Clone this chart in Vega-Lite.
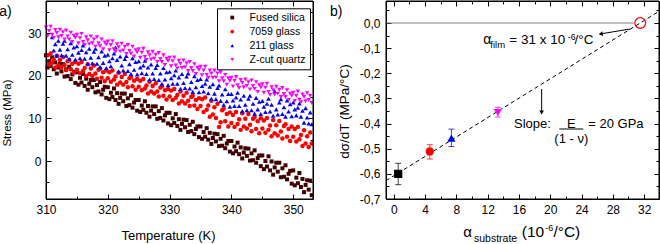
{
"$schema":"https://vega.github.io/schema/vega-lite/v6.json",
"autosize":{"type":"none"},
"padding":{"left":46,"top":1,"right":614,"bottom":243},
"background":"white",
"spacing":73,
"bounds":"flush",
"config":{"font":"Liberation Sans","view":{"stroke":"black","strokeWidth":1,"fill":null},
 "axis":{"domain":false,"grid":false,"labels":false,"title":null,"tickColor":"black","tickWidth":1,"labelColor":"black","titleColor":"black","labelFontSize":12,"titleFontWeight":"normal","labelFlush":false,"labelOverlap":false},
 "legend":{"labelColor":"black"}},
"resolve":{"scale":{"color":"independent","shape":"independent"}},
"datasets":{
"fused":[{"t":310,"v":24.8},{"t":310.25,"v":21.9},{"t":310.5,"v":23.4},{"t":310.75,"v":22.3},{"t":311,"v":24.3},{"t":311.25,"v":21.5},{"t":311.5,"v":23.1},{"t":311.75,"v":20.5},{"t":312,"v":21.9},{"t":312.25,"v":22.8},{"t":312.5,"v":21.0},{"t":312.75,"v":22.7},{"t":313,"v":19.8},{"t":313.25,"v":21.5},{"t":313.5,"v":19.9},{"t":313.75,"v":22.1},{"t":314,"v":19.2},{"t":314.25,"v":20.3},{"t":314.5,"v":20.9},{"t":314.75,"v":18.3},
{"t":315,"v":20.8},{"t":315.25,"v":17.9},{"t":315.5,"v":19.5},{"t":315.75,"v":18.4},{"t":316,"v":20.4},{"t":316.25,"v":17.6},{"t":316.5,"v":19.3},{"t":316.75,"v":16.7},{"t":317,"v":18.1},{"t":317.25,"v":19.0},{"t":317.5,"v":17.3},{"t":317.75,"v":19.0},{"t":318,"v":16.1},{"t":318.25,"v":17.8},{"t":318.5,"v":16.3},{"t":318.75,"v":18.5},{"t":319,"v":15.6},{"t":319.25,"v":16.7},{"t":319.5,"v":17.4},{"t":319.75,"v":14.8},
{"t":320,"v":17.3},{"t":320.25,"v":14.5},{"t":320.5,"v":16.0},{"t":320.75,"v":15.0},{"t":321,"v":17.0},{"t":321.25,"v":14.3},{"t":321.5,"v":15.9},{"t":321.75,"v":13.4},{"t":322,"v":14.8},{"t":322.25,"v":15.8},{"t":322.5,"v":14.0},{"t":322.75,"v":15.8},{"t":323,"v":12.9},{"t":323.25,"v":14.7},{"t":323.5,"v":13.1},{"t":323.75,"v":15.4},{"t":324,"v":12.5},{"t":324.25,"v":13.7},{"t":324.5,"v":14.3},{"t":324.75,"v":11.8},
{"t":325,"v":14.3},{"t":325.25,"v":11.5},{"t":325.5,"v":13.0},{"t":325.75,"v":12.0},{"t":326,"v":14.0},{"t":326.25,"v":11.3},{"t":326.5,"v":12.9},{"t":326.75,"v":10.4},{"t":327,"v":11.8},{"t":327.25,"v":12.8},{"t":327.5,"v":11.0},{"t":327.75,"v":12.8},{"t":328,"v":9.9},{"t":328.25,"v":11.7},{"t":328.5,"v":10.1},{"t":328.75,"v":12.4},{"t":329,"v":9.5},{"t":329.25,"v":10.7},{"t":329.5,"v":11.3},{"t":329.75,"v":8.8},
{"t":330,"v":11.3},{"t":330.25,"v":8.4},{"t":330.5,"v":10.0},{"t":330.75,"v":8.9},{"t":331,"v":11.0},{"t":331.25,"v":8.2},{"t":331.5,"v":9.8},{"t":331.75,"v":7.3},{"t":332,"v":8.7},{"t":332.25,"v":9.7},{"t":332.5,"v":7.9},{"t":332.75,"v":9.6},{"t":333,"v":6.8},{"t":333.25,"v":8.5},{"t":333.5,"v":7.0},{"t":333.75,"v":9.2},{"t":334,"v":6.3},{"t":334.25,"v":7.5},{"t":334.5,"v":8.1},{"t":334.75,"v":5.6},
{"t":335,"v":8.1},{"t":335.25,"v":5.2},{"t":335.5,"v":6.8},{"t":335.75,"v":5.7},{"t":336,"v":7.7},{"t":336.25,"v":5.0},{"t":336.5,"v":6.6},{"t":336.75,"v":4.0},{"t":337,"v":5.4},{"t":337.25,"v":6.4},{"t":337.5,"v":4.6},{"t":337.75,"v":6.3},{"t":338,"v":3.5},{"t":338.25,"v":5.2},{"t":338.5,"v":3.6},{"t":338.75,"v":5.9},{"t":339,"v":3.0},{"t":339.25,"v":4.1},{"t":339.5,"v":4.7},{"t":339.75,"v":2.2},
{"t":340,"v":4.7},{"t":340.25,"v":1.8},{"t":340.5,"v":3.4},{"t":340.75,"v":2.3},{"t":341,"v":4.3},{"t":341.25,"v":1.6},{"t":341.5,"v":3.2},{"t":341.75,"v":0.6},{"t":342,"v":2.0},{"t":342.25,"v":3.0},{"t":342.5,"v":1.2},{"t":342.75,"v":2.9},{"t":343,"v":0.1},{"t":343.25,"v":1.8},{"t":343.5,"v":0.2},{"t":343.75,"v":2.5},{"t":344,"v":-0.4},{"t":344.25,"v":0.7},{"t":344.5,"v":1.3},{"t":344.75,"v":-1.2},
{"t":345,"v":1.3},{"t":345.25,"v":-1.9},{"t":345.5,"v":0.0},{"t":345.75,"v":-1.3},{"t":346,"v":1.1},{"t":346.25,"v":-2.2},{"t":346.5,"v":-0.1},{"t":346.75,"v":-3.2},{"t":347,"v":-1.5},{"t":347.25,"v":-0.4},{"t":347.5,"v":-2.5},{"t":347.75,"v":-0.4},{"t":348,"v":-3.8},{"t":348.25,"v":-1.7},{"t":348.5,"v":-3.7},{"t":348.75,"v":-1.0},{"t":349,"v":-4.3},{"t":349.25,"v":-3.0},{"t":349.5,"v":-2.3},{"t":349.75,"v":-5.3},
{"t":350,"v":-2.2},{"t":350.25,"v":-5.7},{"t":350.5,"v":-3.9},{"t":350.75,"v":-5.2},{"t":351,"v":-2.8},{"t":351.25,"v":-6.1},{"t":351.5,"v":-4.2},{"t":351.75,"v":-7.3},{"t":352,"v":-5.6},{"t":352.25,"v":-4.5},{"t":352.5,"v":-6.7},{"t":352.75,"v":-4.6},{"t":353,"v":-8.0}],
"g7059":[{"t":310.25,"v":24.8},{"t":310.5,"v":22.6},{"t":310.75,"v":25.2},{"t":311,"v":23.1},{"t":311.25,"v":23.8},{"t":311.5,"v":21.9},{"t":311.75,"v":24.7},{"t":312,"v":22.4},{"t":312.25,"v":23.7},{"t":312.5,"v":21.9},{"t":312.75,"v":24.4},{"t":313,"v":22.5},{"t":313.25,"v":21.3},{"t":313.5,"v":23.4},{"t":313.75,"v":23.7},{"t":314,"v":21.5},{"t":314.25,"v":22.8},{"t":314.5,"v":20.7},{"t":314.75,"v":23.2},{"t":315,"v":21.4},
{"t":315.25,"v":22.8},{"t":315.5,"v":20.6},{"t":315.75,"v":23.2},{"t":316,"v":21.1},{"t":316.25,"v":21.8},{"t":316.5,"v":19.9},{"t":316.75,"v":22.7},{"t":317,"v":20.4},{"t":317.25,"v":21.7},{"t":317.5,"v":19.9},{"t":317.75,"v":22.4},{"t":318,"v":20.5},{"t":318.25,"v":19.3},{"t":318.5,"v":21.4},{"t":318.75,"v":21.7},{"t":319,"v":19.5},{"t":319.25,"v":20.8},{"t":319.5,"v":18.7},{"t":319.75,"v":21.2},{"t":320,"v":19.4},
{"t":320.25,"v":20.8},{"t":320.5,"v":18.6},{"t":320.75,"v":21.2},{"t":321,"v":19.1},{"t":321.25,"v":19.8},{"t":321.5,"v":17.9},{"t":321.75,"v":20.7},{"t":322,"v":18.4},{"t":322.25,"v":19.7},{"t":322.5,"v":17.9},{"t":322.75,"v":20.4},{"t":323,"v":18.5},{"t":323.25,"v":17.3},{"t":323.5,"v":19.4},{"t":323.75,"v":19.7},{"t":324,"v":17.5},{"t":324.25,"v":18.8},{"t":324.5,"v":16.7},{"t":324.75,"v":19.2},{"t":325,"v":17.4},
{"t":325.25,"v":18.8},{"t":325.5,"v":16.6},{"t":325.75,"v":19.2},{"t":326,"v":17.0},{"t":326.25,"v":17.7},{"t":326.5,"v":15.8},{"t":326.75,"v":18.6},{"t":327,"v":16.3},{"t":327.25,"v":17.6},{"t":327.5,"v":15.8},{"t":327.75,"v":18.2},{"t":328,"v":16.3},{"t":328.25,"v":15.1},{"t":328.5,"v":17.2},{"t":328.75,"v":17.5},{"t":329,"v":15.3},{"t":329.25,"v":16.6},{"t":329.5,"v":14.4},{"t":329.75,"v":16.9},{"t":330,"v":15.1},
{"t":330.25,"v":16.5},{"t":330.5,"v":14.3},{"t":330.75,"v":16.9},{"t":331,"v":14.8},{"t":331.25,"v":15.5},{"t":331.5,"v":13.5},{"t":331.75,"v":16.3},{"t":332,"v":14.0},{"t":332.25,"v":15.3},{"t":332.5,"v":13.5},{"t":332.75,"v":16.0},{"t":333,"v":14.1},{"t":333.25,"v":12.9},{"t":333.5,"v":15.0},{"t":333.75,"v":15.3},{"t":334,"v":13.0},{"t":334.25,"v":14.3},{"t":334.5,"v":12.2},{"t":334.75,"v":14.7},{"t":335,"v":12.9},
{"t":335.25,"v":14.5},{"t":335.5,"v":11.5},{"t":335.75,"v":14.9},{"t":336,"v":12.0},{"t":336.25,"v":13.0},{"t":336.5,"v":10.4},{"t":336.75,"v":14.1},{"t":337,"v":10.9},{"t":337.25,"v":12.6},{"t":337.5,"v":10.1},{"t":337.75,"v":13.4},{"t":338,"v":8.0},{"t":338.25,"v":9.1},{"t":338.5,"v":11.9},{"t":338.75,"v":12.3},{"t":339,"v":9.3},{"t":339.25,"v":11.0},{"t":339.5,"v":8.1},{"t":339.75,"v":11.4},{"t":340,"v":8.9},
{"t":340.25,"v":10.8},{"t":340.5,"v":8.0},{"t":340.75,"v":11.5},{"t":341,"v":8.7},{"t":341.25,"v":9.8},{"t":341.5,"v":7.3},{"t":341.75,"v":11.2},{"t":342,"v":8.1},{"t":342.25,"v":9.9},{"t":342.5,"v":7.6},{"t":342.75,"v":11.0},{"t":343,"v":8.5},{"t":343.25,"v":7.0},{"t":343.5,"v":9.9},{"t":343.75,"v":10.3},{"t":344,"v":7.5},{"t":344.25,"v":9.3},{"t":344.5,"v":6.5},{"t":344.75,"v":10.0},{"t":345,"v":7.6},
{"t":345.25,"v":9.5},{"t":345.5,"v":6.6},{"t":345.75,"v":10.1},{"t":346,"v":7.3},{"t":346.25,"v":8.3},{"t":346.5,"v":5.8},{"t":346.75,"v":9.6},{"t":347,"v":6.5},{"t":347.25,"v":8.4},{"t":347.5,"v":6.0},{"t":347.75,"v":9.4},{"t":348,"v":6.9},{"t":348.25,"v":5.3},{"t":348.5,"v":8.2},{"t":348.75,"v":8.6},{"t":349,"v":5.7},{"t":349.25,"v":7.5},{"t":349.5,"v":4.7},{"t":349.75,"v":8.1},{"t":350,"v":5.7},
{"t":350.25,"v":7.5},{"t":350.5,"v":4.6},{"t":350.75,"v":8.0},{"t":351,"v":5.1},{"t":351.25,"v":6.1},{"t":351.5,"v":3.5},{"t":351.75,"v":7.2},{"t":352,"v":4.1},{"t":352.25,"v":5.8},{"t":352.5,"v":3.3},{"t":352.75,"v":6.7},{"t":353,"v":4.1}],
"g211":[{"t":311,"v":29.0},{"t":311.25,"v":25.9},{"t":311.5,"v":27.4},{"t":311.75,"v":24.7},{"t":312,"v":28.2},{"t":312.25,"v":26.1},{"t":312.5,"v":24.8},{"t":312.75,"v":27.5},{"t":313,"v":28.2},{"t":313.25,"v":24.7},{"t":313.5,"v":26.2},{"t":313.75,"v":23.9},{"t":314,"v":27.6},{"t":314.25,"v":24.9},{"t":314.5,"v":26.6},{"t":314.75,"v":23.8},{"t":315,"v":26.9},
{"t":315.25,"v":25.4},{"t":315.5,"v":24.1},{"t":315.75,"v":26.0},{"t":316,"v":27.1},{"t":316.25,"v":24.0},{"t":316.5,"v":25.5},{"t":316.75,"v":22.8},{"t":317,"v":26.3},{"t":317.25,"v":24.2},{"t":317.5,"v":22.9},{"t":317.75,"v":25.6},{"t":318,"v":26.3},{"t":318.25,"v":22.8},{"t":318.5,"v":24.3},{"t":318.75,"v":22.0},{"t":319,"v":25.7},{"t":319.25,"v":23.0},{"t":319.5,"v":24.7},{"t":319.75,"v":21.8},{"t":320,"v":24.9},
{"t":320.25,"v":23.4},{"t":320.5,"v":22.2},{"t":320.75,"v":24.1},{"t":321,"v":25.2},{"t":321.25,"v":26.6},{"t":321.5,"v":23.7},{"t":321.75,"v":21.0},{"t":322,"v":24.5},{"t":322.25,"v":22.4},{"t":322.5,"v":21.2},{"t":322.75,"v":23.9},{"t":323,"v":24.6},{"t":323.25,"v":21.1},{"t":323.5,"v":22.7},{"t":323.75,"v":20.4},{"t":324,"v":24.1},{"t":324.25,"v":21.4},{"t":324.5,"v":23.2},{"t":324.75,"v":20.3},{"t":325,"v":23.4},
{"t":325.25,"v":21.9},{"t":325.5,"v":20.6},{"t":325.75,"v":22.4},{"t":326,"v":23.5},{"t":326.25,"v":20.4},{"t":326.5,"v":21.9},{"t":326.75,"v":19.1},{"t":327,"v":22.6},{"t":327.25,"v":20.5},{"t":327.5,"v":19.2},{"t":327.75,"v":21.8},{"t":328,"v":22.5},{"t":328.25,"v":19.0},{"t":328.5,"v":20.5},{"t":328.75,"v":18.1},{"t":329,"v":21.8},{"t":329.25,"v":19.1},{"t":329.5,"v":20.8},{"t":329.75,"v":17.8},{"t":330,"v":20.9},
{"t":330.25,"v":19.4},{"t":330.5,"v":18.1},{"t":330.75,"v":20.1},{"t":331,"v":21.2},{"t":331.25,"v":18.1},{"t":331.5,"v":19.6},{"t":331.75,"v":16.9},{"t":332,"v":20.4},{"t":332.25,"v":18.3},{"t":332.5,"v":17.1},{"t":332.75,"v":19.8},{"t":333,"v":20.5},{"t":333.25,"v":17.0},{"t":333.5,"v":18.5},{"t":333.75,"v":16.2},{"t":334,"v":19.9},{"t":334.25,"v":17.3},{"t":334.5,"v":19.0},{"t":334.75,"v":16.1},{"t":335,"v":19.2},
{"t":335.25,"v":17.6},{"t":335.5,"v":16.3},{"t":335.75,"v":18.1},{"t":336,"v":19.1},{"t":336.25,"v":15.9},{"t":336.5,"v":17.4},{"t":336.75,"v":14.6},{"t":337,"v":18.0},{"t":337.25,"v":15.8},{"t":337.5,"v":14.5},{"t":337.75,"v":17.1},{"t":338,"v":17.7},{"t":338.25,"v":14.1},{"t":338.5,"v":15.6},{"t":338.75,"v":13.2},{"t":339,"v":16.8},{"t":339.25,"v":14.0},{"t":339.5,"v":15.7},{"t":339.75,"v":12.7},{"t":340,"v":15.7},
{"t":340.25,"v":14.2},{"t":340.5,"v":12.9},{"t":340.75,"v":14.9},{"t":341,"v":16.0},{"t":341.25,"v":12.9},{"t":341.5,"v":14.4},{"t":341.75,"v":11.7},{"t":342,"v":15.3},{"t":342.25,"v":13.2},{"t":342.5,"v":11.9},{"t":342.75,"v":14.6},{"t":343,"v":15.3},{"t":343.25,"v":11.9},{"t":343.5,"v":13.4},{"t":343.75,"v":11.1},{"t":344,"v":14.8},{"t":344.25,"v":12.1},{"t":344.5,"v":13.9},{"t":344.75,"v":11.0},{"t":345,"v":14.1},
{"t":345.25,"v":12.7},{"t":345.5,"v":11.5},{"t":345.75,"v":13.4},{"t":346,"v":14.6},{"t":346.25,"v":11.6},{"t":346.5,"v":13.2},{"t":346.75,"v":10.6},{"t":347,"v":16.3},{"t":347.25,"v":12.1},{"t":347.5,"v":10.9},{"t":347.75,"v":13.7},{"t":348,"v":14.5},{"t":348.25,"v":11.0},{"t":348.5,"v":12.6},{"t":348.75,"v":10.4},{"t":349,"v":14.2},{"t":349.25,"v":11.6},{"t":349.5,"v":13.3},{"t":349.75,"v":10.5},{"t":350,"v":13.7},
{"t":350.25,"v":12.1},{"t":350.5,"v":10.7},{"t":350.75,"v":12.5},{"t":351,"v":13.5},{"t":351.25,"v":10.4},{"t":351.5,"v":11.8},{"t":351.75,"v":9.0},{"t":352,"v":12.4},{"t":352.25,"v":10.2},{"t":352.5,"v":8.8},{"t":352.75,"v":11.4},{"t":353,"v":8.6}],
"quartz":[{"t":310,"v":31.3},{"t":310.25,"v":29.3},{"t":310.5,"v":30.5},{"t":310.75,"v":31.5},{"t":311,"v":29.6},{"t":311.25,"v":28.9},{"t":311.5,"v":30.7},{"t":311.75,"v":30.0},{"t":312,"v":29.0},{"t":312.25,"v":30.8},{"t":312.5,"v":29.3},{"t":312.75,"v":30.2},{"t":313,"v":28.5},{"t":313.25,"v":30.6},{"t":313.5,"v":29.2},{"t":313.75,"v":28.5},{"t":314,"v":30.1},{"t":314.25,"v":27.9},{"t":314.5,"v":29.4},{"t":314.75,"v":28.9},{"t":315,"v":29.6},
{"t":315.25,"v":27.6},{"t":315.5,"v":28.8},{"t":315.75,"v":29.8},{"t":316,"v":27.9},{"t":316.25,"v":27.2},{"t":316.5,"v":29.0},{"t":316.75,"v":28.3},{"t":317,"v":27.4},{"t":317.25,"v":29.2},{"t":317.5,"v":27.6},{"t":317.75,"v":28.5},{"t":318,"v":26.8},{"t":318.25,"v":29.0},{"t":318.5,"v":27.6},{"t":318.75,"v":26.9},{"t":319,"v":28.5},{"t":319.25,"v":26.2},{"t":319.5,"v":27.8},{"t":319.75,"v":27.3},{"t":320,"v":28.0},
{"t":320.25,"v":26.0},{"t":320.5,"v":27.2},{"t":320.75,"v":28.1},{"t":321,"v":26.2},{"t":321.25,"v":25.6},{"t":321.5,"v":27.4},{"t":321.75,"v":26.7},{"t":322,"v":25.7},{"t":322.25,"v":27.5},{"t":322.5,"v":25.9},{"t":322.75,"v":26.8},{"t":323,"v":25.1},{"t":323.25,"v":27.2},{"t":323.5,"v":25.8},{"t":323.75,"v":25.2},{"t":324,"v":26.8},{"t":324.25,"v":24.5},{"t":324.5,"v":26.0},{"t":324.75,"v":25.5},{"t":325,"v":26.2},
{"t":325.25,"v":24.2},{"t":325.5,"v":25.4},{"t":325.75,"v":26.3},{"t":326,"v":24.4},{"t":326.25,"v":23.7},{"t":326.5,"v":25.5},{"t":326.75,"v":24.8},{"t":327,"v":23.8},{"t":327.25,"v":25.6},{"t":327.5,"v":24.0},{"t":327.75,"v":24.9},{"t":328,"v":23.2},{"t":328.25,"v":25.3},{"t":328.5,"v":23.9},{"t":328.75,"v":23.2},{"t":329,"v":24.8},{"t":329.25,"v":22.5},{"t":329.5,"v":24.0},{"t":329.75,"v":23.5},{"t":330,"v":24.2},
{"t":330.25,"v":22.2},{"t":330.5,"v":23.4},{"t":330.75,"v":24.3},{"t":331,"v":22.4},{"t":331.25,"v":21.7},{"t":331.5,"v":23.5},{"t":331.75,"v":22.8},{"t":332,"v":21.8},{"t":332.25,"v":23.6},{"t":332.5,"v":22.0},{"t":332.75,"v":22.9},{"t":333,"v":21.1},{"t":333.25,"v":23.2},{"t":333.5,"v":21.8},{"t":333.75,"v":21.1},{"t":334,"v":22.7},{"t":334.25,"v":20.4},{"t":334.5,"v":21.9},{"t":334.75,"v":21.4},{"t":335,"v":22.1},
{"t":335.25,"v":20.1},{"t":335.5,"v":21.2},{"t":335.75,"v":22.1},{"t":336,"v":20.2},{"t":336.25,"v":19.5},{"t":336.5,"v":21.2},{"t":336.75,"v":20.5},{"t":337,"v":19.5},{"t":337.25,"v":21.2},{"t":337.5,"v":19.6},{"t":337.75,"v":20.5},{"t":338,"v":18.7},{"t":338.25,"v":20.8},{"t":338.5,"v":19.4},{"t":338.75,"v":18.7},{"t":339,"v":20.2},{"t":339.25,"v":17.9},{"t":339.5,"v":19.4},{"t":339.75,"v":18.8},{"t":340,"v":19.5},
{"t":340.25,"v":17.5},{"t":340.5,"v":18.8},{"t":340.75,"v":19.7},{"t":341,"v":17.8},{"t":341.25,"v":17.1},{"t":341.5,"v":19.0},{"t":341.75,"v":18.3},{"t":342,"v":17.3},{"t":342.25,"v":19.1},{"t":342.5,"v":17.6},{"t":342.75,"v":18.5},{"t":343,"v":16.8},{"t":343.25,"v":18.9},{"t":343.5,"v":17.6},{"t":343.75,"v":16.9},{"t":344,"v":18.5},{"t":344.25,"v":16.2},{"t":344.5,"v":17.8},{"t":344.75,"v":17.3},{"t":345,"v":18.0},
{"t":345.25,"v":16.0},{"t":345.5,"v":17.2},{"t":345.75,"v":18.1},{"t":346,"v":16.2},{"t":346.25,"v":15.5},{"t":346.5,"v":17.3},{"t":346.75,"v":16.6},{"t":347,"v":15.6},{"t":347.25,"v":17.4},{"t":347.5,"v":15.8},{"t":347.75,"v":16.7},{"t":348,"v":15.0},{"t":348.25,"v":17.1},{"t":348.5,"v":15.7},{"t":348.75,"v":15.0},{"t":349,"v":16.6},{"t":349.25,"v":14.3},{"t":349.5,"v":15.8},{"t":349.75,"v":15.3},{"t":350,"v":16.0},
{"t":350.25,"v":14.1},{"t":350.5,"v":15.3},{"t":350.75,"v":16.3},{"t":351,"v":14.4},{"t":351.25,"v":13.8},{"t":351.5,"v":15.6},{"t":351.75,"v":15.0},{"t":352,"v":14.0},{"t":352.25,"v":15.9},{"t":352.5,"v":14.3},{"t":352.75,"v":15.3},{"t":353,"v":13.6}],
"subs":[{"sub":"Fused silica","a":0.56,"d":-0.6,"lo":-0.643,"hi":-0.558},{"sub":"7059 glass","a":4.6,"d":-0.511,"lo":-0.541,"hi":-0.484},{"sub":"211 glass","a":7.36,"d":-0.458,"lo":-0.491,"hi":-0.422},{"sub":"Z-cut quartz","a":13.3,"d":-0.356,"lo":-0.374,"hi":-0.335}],
"fit":[{"a":-1,"d":-0.627},{"a":33.9,"d":0.0463}],
"one":[{}]
},
"hconcat":[
{"width":267,"height":198,
 "layer":[
  {"data":{"name":"fused"},"mark":{"type":"point","filled":true,"size":16,"opacity":1,"strokeWidth":0},
   "encoding":{
    "x":{"field":"t","type":"quantitative","scale":{"domain":[310,353.2],"nice":false,"zero":false},
     "axis":{"orient":"bottom","values":[310,320,330,340,350],"tickSize":-5,"labels":true,"labelPadding":10,"title":"Temperature (K)","titleFontSize":13,"titleX":122,"titleY":40,"titleBaseline":"alphabetic","titleAlign":"center"}},
    "y":{"field":"v","type":"quantitative","scale":{"domain":[-8.9,37.5],"nice":false,"zero":false},
     "axis":{"orient":"left","values":[0,10,20,30],"tickSize":-5,"labels":true,"labelPadding":10,"title":"Stress (MPa)","titleFontSize":11.5,"titleX":-36,"titleY":111.5,"titleAngle":270,"titleBaseline":"alphabetic","titleAlign":"center"}},
    "color":{"datum":"Fused silica","type":"nominal","scale":{"domain":["Fused silica","7059 glass","211 glass","Z-cut quartz"],"range":["#420000","#ff0000","#0000ff","#ff00ff"]},
     "legend":{"orient":"none","legendX":171,"legendY":7.3,"title":null,"strokeColor":"black","fillColor":"white","padding":4,"labelFontSize":10.5,"symbolSize":14,"symbolOffset":6,"labelOffset":12,"rowPadding":3,"symbolStrokeWidth":0}},
    "shape":{"datum":"Fused silica","type":"nominal","scale":{"domain":["Fused silica","7059 glass","211 glass","Z-cut quartz"],"range":["square","circle","triangle-up","triangle-down"]},
     "legend":{"orient":"none","legendX":171,"legendY":7.3,"title":null,"strokeColor":"black","fillColor":"white","padding":4,"labelFontSize":10.5,"symbolSize":14,"symbolOffset":6,"labelOffset":12,"rowPadding":3,"symbolStrokeWidth":0}}
   }},
  {"data":{"name":"g7059"},"mark":{"type":"point","filled":true,"size":20,"opacity":1,"strokeWidth":0},
   "encoding":{
    "x":{"field":"t","type":"quantitative","axis":{"orient":"bottom","values":[315,325,335,345],"tickSize":-3}},
    "y":{"field":"v","type":"quantitative","axis":{"orient":"left","values":[-5,5,15,25,35],"tickSize":-3}},
    "color":{"datum":"7059 glass","type":"nominal"},
    "shape":{"datum":"7059 glass","type":"nominal"}
   }},
  {"data":{"name":"g211"},"mark":{"type":"point","filled":true,"size":22,"opacity":1,"strokeWidth":0},
   "encoding":{
    "x":{"field":"t","type":"quantitative","axis":{"orient":"top","values":[310,320,330,340,350],"tickSize":-5}},
    "y":{"field":"v","type":"quantitative","axis":{"orient":"right","values":[0,10,20,30],"tickSize":-5}},
    "color":{"datum":"211 glass","type":"nominal"},
    "shape":{"datum":"211 glass","type":"nominal"}
   }},
  {"data":{"name":"quartz"},"mark":{"type":"point","filled":true,"size":20,"opacity":1,"strokeWidth":0},
   "encoding":{
    "x":{"field":"t","type":"quantitative","axis":{"orient":"top","values":[315,325,335,345],"tickSize":-3}},
    "y":{"field":"v","type":"quantitative","axis":{"orient":"right","values":[-5,5,15,25,35],"tickSize":-3}},
    "color":{"datum":"Z-cut quartz","type":"nominal"},
    "shape":{"datum":"Z-cut quartz","type":"nominal"}
   }},
  {"data":{"name":"one"},"mark":{"type":"text","text":"a)","align":"left","baseline":"alphabetic","fontSize":14,"color":"black"},
   "encoding":{"x":{"datum":302.45,"type":"quantitative","axis":null},"y":{"datum":33.98,"type":"quantitative","axis":null}}},
  {"data":{"name":"one"},"mark":{"type":"rect","fill":null,"stroke":"black","strokeWidth":1},
   "encoding":{"x":{"datum":310,"type":"quantitative","axis":null},"x2":{"datum":353.2},"y":{"datum":-8.9,"type":"quantitative","axis":null},"y2":{"datum":37.5}}}
 ],
 "resolve":{"axis":{"x":"independent","y":"independent"}}
},
{"width":273,"height":198,
 "layer":[
  {"data":{"name":"fit"},"mark":{"type":"line","color":"black","strokeWidth":1,"strokeDash":[4,3]},
   "encoding":{
    "x":{"field":"a","type":"quantitative","scale":{"domain":[-1,33.9],"nice":false,"zero":false},
     "axis":{"orient":"bottom","values":[0,4,8,12,16,20,24,28,32],"tickSize":-5,"labels":true,"labelPadding":10}},
    "y":{"field":"d","type":"quantitative","scale":{"domain":[-0.7,0.0875],"nice":false,"zero":false},
     "axis":{"orient":"left","values":[-0.7,-0.6,-0.5,-0.4,-0.3,-0.2,-0.1,0],"tickSize":-5,"labels":true,"labelPadding":11,
      "labelExpr":"replace(replace(format(datum.value,'.1f'),'.',','),'−','-')",
      "title":"dσ/dT (MPa/°C)","titleFontSize":13.5,"titleX":-38,"titleY":110,"titleAngle":270,"titleBaseline":"alphabetic","titleAlign":"center"}}
   }},
  {"data":{"name":"one"},"mark":{"type":"rule","color":"#808080","strokeWidth":1},
   "encoding":{
    "x":{"datum":-1,"type":"quantitative","axis":{"orient":"bottom","values":[2,6,10,14,18,22,26,30],"tickSize":-3}},
    "x2":{"datum":30.7},
    "y":{"datum":0,"type":"quantitative","axis":{"orient":"left","values":[-0.65,-0.55,-0.45,-0.35,-0.25,-0.15,-0.05,0.05],"tickSize":-3}}
   }},
  {"data":{"name":"subs"},"mark":{"type":"rule","strokeWidth":1,"opacity":0.75},
   "encoding":{
    "x":{"field":"a","type":"quantitative","axis":{"orient":"top","values":[0,4,8,12,16,20,24,28,32],"tickSize":-5}},
    "y":{"field":"lo","type":"quantitative","axis":{"orient":"right","values":[-0.7,-0.6,-0.5,-0.4,-0.3,-0.2,-0.1,0],"tickSize":-5}},
    "y2":{"field":"hi"},
    "color":{"field":"sub","type":"nominal","scale":{"domain":["Fused silica","7059 glass","211 glass","Z-cut quartz"],"range":["#000000","#ff0000","#0000ff","#ff00ff"]},"legend":null}
   }},
  {"data":{"name":"subs"},"mark":{"type":"tick","orient":"horizontal","size":6,"thickness":1,"opacity":0.75},
   "encoding":{
    "x":{"field":"a","type":"quantitative","axis":{"orient":"top","values":[2,6,10,14,18,22,26,30],"tickSize":-3}},
    "y":{"field":"lo","type":"quantitative","axis":{"orient":"right","values":[-0.65,-0.55,-0.45,-0.35,-0.25,-0.15,-0.05,0.05],"tickSize":-3}},
    "color":{"field":"sub","type":"nominal","legend":null}
   }},
  {"data":{"name":"subs"},"mark":{"type":"tick","orient":"horizontal","size":6,"thickness":1,"opacity":0.75},
   "encoding":{
    "x":{"field":"a","type":"quantitative","axis":null},
    "y":{"field":"hi","type":"quantitative","axis":null},
    "color":{"field":"sub","type":"nominal","legend":null}
   }},
  {"data":{"name":"subs"},"mark":{"type":"point","filled":true,"size":68,"opacity":1,"strokeWidth":0},
   "encoding":{
    "x":{"field":"a","type":"quantitative","axis":null},
    "y":{"field":"d","type":"quantitative","axis":null},
    "color":{"field":"sub","type":"nominal","legend":null},
    "shape":{"field":"sub","type":"nominal","scale":{"domain":["Fused silica","7059 glass","211 glass","Z-cut quartz"],"range":["square","circle","triangle-up","triangle-down"]},"legend":null}
   }},
  {"data":{"name":"one"},"mark":{"type":"point","shape":"circle","filled":false,"size":115,"color":"#ff0000","strokeWidth":1.2,"opacity":1},
   "encoding":{"x":{"datum":31.5,"type":"quantitative","axis":null},"y":{"datum":0,"type":"quantitative","axis":null}}},
  {"data":{"name":"one"},"mark":{"type":"rule","color":"black","strokeWidth":1},
   "encoding":{"x":{"datum":30.19,"type":"quantitative","axis":null},"x2":{"datum":26.6},"y":{"datum":-0.024,"type":"quantitative","axis":null},"y2":{"datum":-0.0425}}},
  {"data":{"name":"one"},"mark":{"type":"point","shape":"triangle-left","filled":true,"size":22,"color":"black","angle":350.5,"opacity":1,"strokeWidth":0},
   "encoding":{"x":{"datum":26.45,"type":"quantitative","axis":null},"y":{"datum":-0.0435,"type":"quantitative","axis":null}}},
  {"data":{"name":"one"},"mark":{"type":"rule","color":"black","strokeWidth":1},
   "encoding":{"x":{"datum":18.9,"type":"quantitative","axis":null},"y":{"datum":-0.2625,"type":"quantitative","axis":null},"y2":{"datum":-0.35}}},
  {"data":{"name":"one"},"mark":{"type":"point","shape":"triangle-down","filled":true,"size":22,"color":"black","opacity":1,"strokeWidth":0},
   "encoding":{"x":{"datum":18.9,"type":"quantitative","axis":null},"y":{"datum":-0.356,"type":"quantitative","axis":null}}},
  {"data":{"name":"one"},"mark":{"type":"text","text":"b)","align":"left","baseline":"alphabetic","fontSize":14,"color":"black"},
   "encoding":{"x":{"datum":-8.16,"type":"quantitative","axis":null},"y":{"datum":0.028,"type":"quantitative","axis":null}}},
  {"data":{"name":"one"},"mark":{"type":"text","text":"α","align":"left","baseline":"alphabetic","fontSize":14,"color":"black"},
   "encoding":{"x":{"datum":11.44,"type":"quantitative","axis":null},"y":{"datum":-0.0835,"type":"quantitative","axis":null}}},
  {"data":{"name":"one"},"mark":{"type":"text","text":"film","align":"left","baseline":"alphabetic","fontSize":9.5,"color":"black"},
   "encoding":{"x":{"datum":12.33,"type":"quantitative","axis":null},"y":{"datum":-0.1006,"type":"quantitative","axis":null}}},
  {"data":{"name":"one"},"mark":{"type":"text","text":"= 31 x 10","align":"left","baseline":"alphabetic","fontSize":13.5,"color":"black"},
   "encoding":{"x":{"datum":14.76,"type":"quantitative","axis":null},"y":{"datum":-0.0835,"type":"quantitative","axis":null}}},
  {"data":{"name":"one"},"mark":{"type":"text","text":"-6","align":"left","baseline":"alphabetic","fontSize":8.5,"color":"black"},
   "encoding":{"x":{"datum":22.25,"type":"quantitative","axis":null},"y":{"datum":-0.0676,"type":"quantitative","axis":null}}},
  {"data":{"name":"one"},"mark":{"type":"text","text":"/°C","align":"left","baseline":"alphabetic","fontSize":13.5,"color":"black"},
   "encoding":{"x":{"datum":23.1,"type":"quantitative","axis":null},"y":{"datum":-0.0835,"type":"quantitative","axis":null}}},
  {"data":{"name":"one"},"mark":{"type":"text","text":"Slope:","align":"left","baseline":"alphabetic","fontSize":13,"color":"black"},
   "encoding":{"x":{"datum":15.36,"type":"quantitative","axis":null},"y":{"datum":-0.4164,"type":"quantitative","axis":null}}},
  {"data":{"name":"one"},"mark":{"type":"text","text":"E","align":"center","baseline":"alphabetic","fontSize":13,"color":"black"},
   "encoding":{"x":{"datum":22.69,"type":"quantitative","axis":null},"y":{"datum":-0.4164,"type":"quantitative","axis":null}}},
  {"data":{"name":"one"},"mark":{"type":"rule","color":"black","strokeWidth":1},
   "encoding":{"x":{"datum":21.16,"type":"quantitative","axis":null},"x2":{"datum":24.22},"y":{"datum":-0.4216,"type":"quantitative","axis":null}}},
  {"data":{"name":"one"},"mark":{"type":"text","text":"(1 - ν)","align":"center","baseline":"alphabetic","fontSize":13,"color":"black"},
   "encoding":{"x":{"datum":22.69,"type":"quantitative","axis":null},"y":{"datum":-0.476,"type":"quantitative","axis":null}}},
  {"data":{"name":"one"},"mark":{"type":"text","text":"= 20 GPa","align":"left","baseline":"alphabetic","fontSize":13,"color":"black"},
   "encoding":{"x":{"datum":24.86,"type":"quantitative","axis":null},"y":{"datum":-0.4164,"type":"quantitative","axis":null}}},
  {"data":{"name":"one"},"mark":{"type":"text","text":"α","align":"left","baseline":"alphabetic","fontSize":15,"color":"black"},
   "encoding":{"x":{"datum":8.88,"type":"quantitative","axis":null},"y":{"datum":-0.85,"type":"quantitative","axis":null}}},
  {"data":{"name":"one"},"mark":{"type":"text","text":"substrate","align":"left","baseline":"alphabetic","fontSize":10.5,"color":"black"},
   "encoding":{"x":{"datum":10.25,"type":"quantitative","axis":null},"y":{"datum":-0.8698,"type":"quantitative","axis":null}}},
  {"data":{"name":"one"},"mark":{"type":"text","text":"(10","align":"left","baseline":"alphabetic","fontSize":15.5,"color":"black"},
   "encoding":{"x":{"datum":16.35,"type":"quantitative","axis":null},"y":{"datum":-0.85,"type":"quantitative","axis":null}}},
  {"data":{"name":"one"},"mark":{"type":"text","text":"-6","align":"left","baseline":"alphabetic","fontSize":9,"color":"black"},
   "encoding":{"x":{"datum":19.35,"type":"quantitative","axis":null},"y":{"datum":-0.8273,"type":"quantitative","axis":null}}},
  {"data":{"name":"one"},"mark":{"type":"text","text":"/°C)","align":"left","baseline":"alphabetic","fontSize":15.5,"color":"black"},
   "encoding":{"x":{"datum":20.4,"type":"quantitative","axis":null},"y":{"datum":-0.85,"type":"quantitative","axis":null}}},
  {"data":{"name":"one"},"mark":{"type":"rect","fill":null,"stroke":"black","strokeWidth":1},
   "encoding":{"x":{"datum":-1,"type":"quantitative","axis":null},"x2":{"datum":33.9},"y":{"datum":-0.7,"type":"quantitative","axis":null},"y2":{"datum":0.0875}}}
 ],
 "resolve":{"axis":{"x":"independent","y":"independent"}}
}
]
}
